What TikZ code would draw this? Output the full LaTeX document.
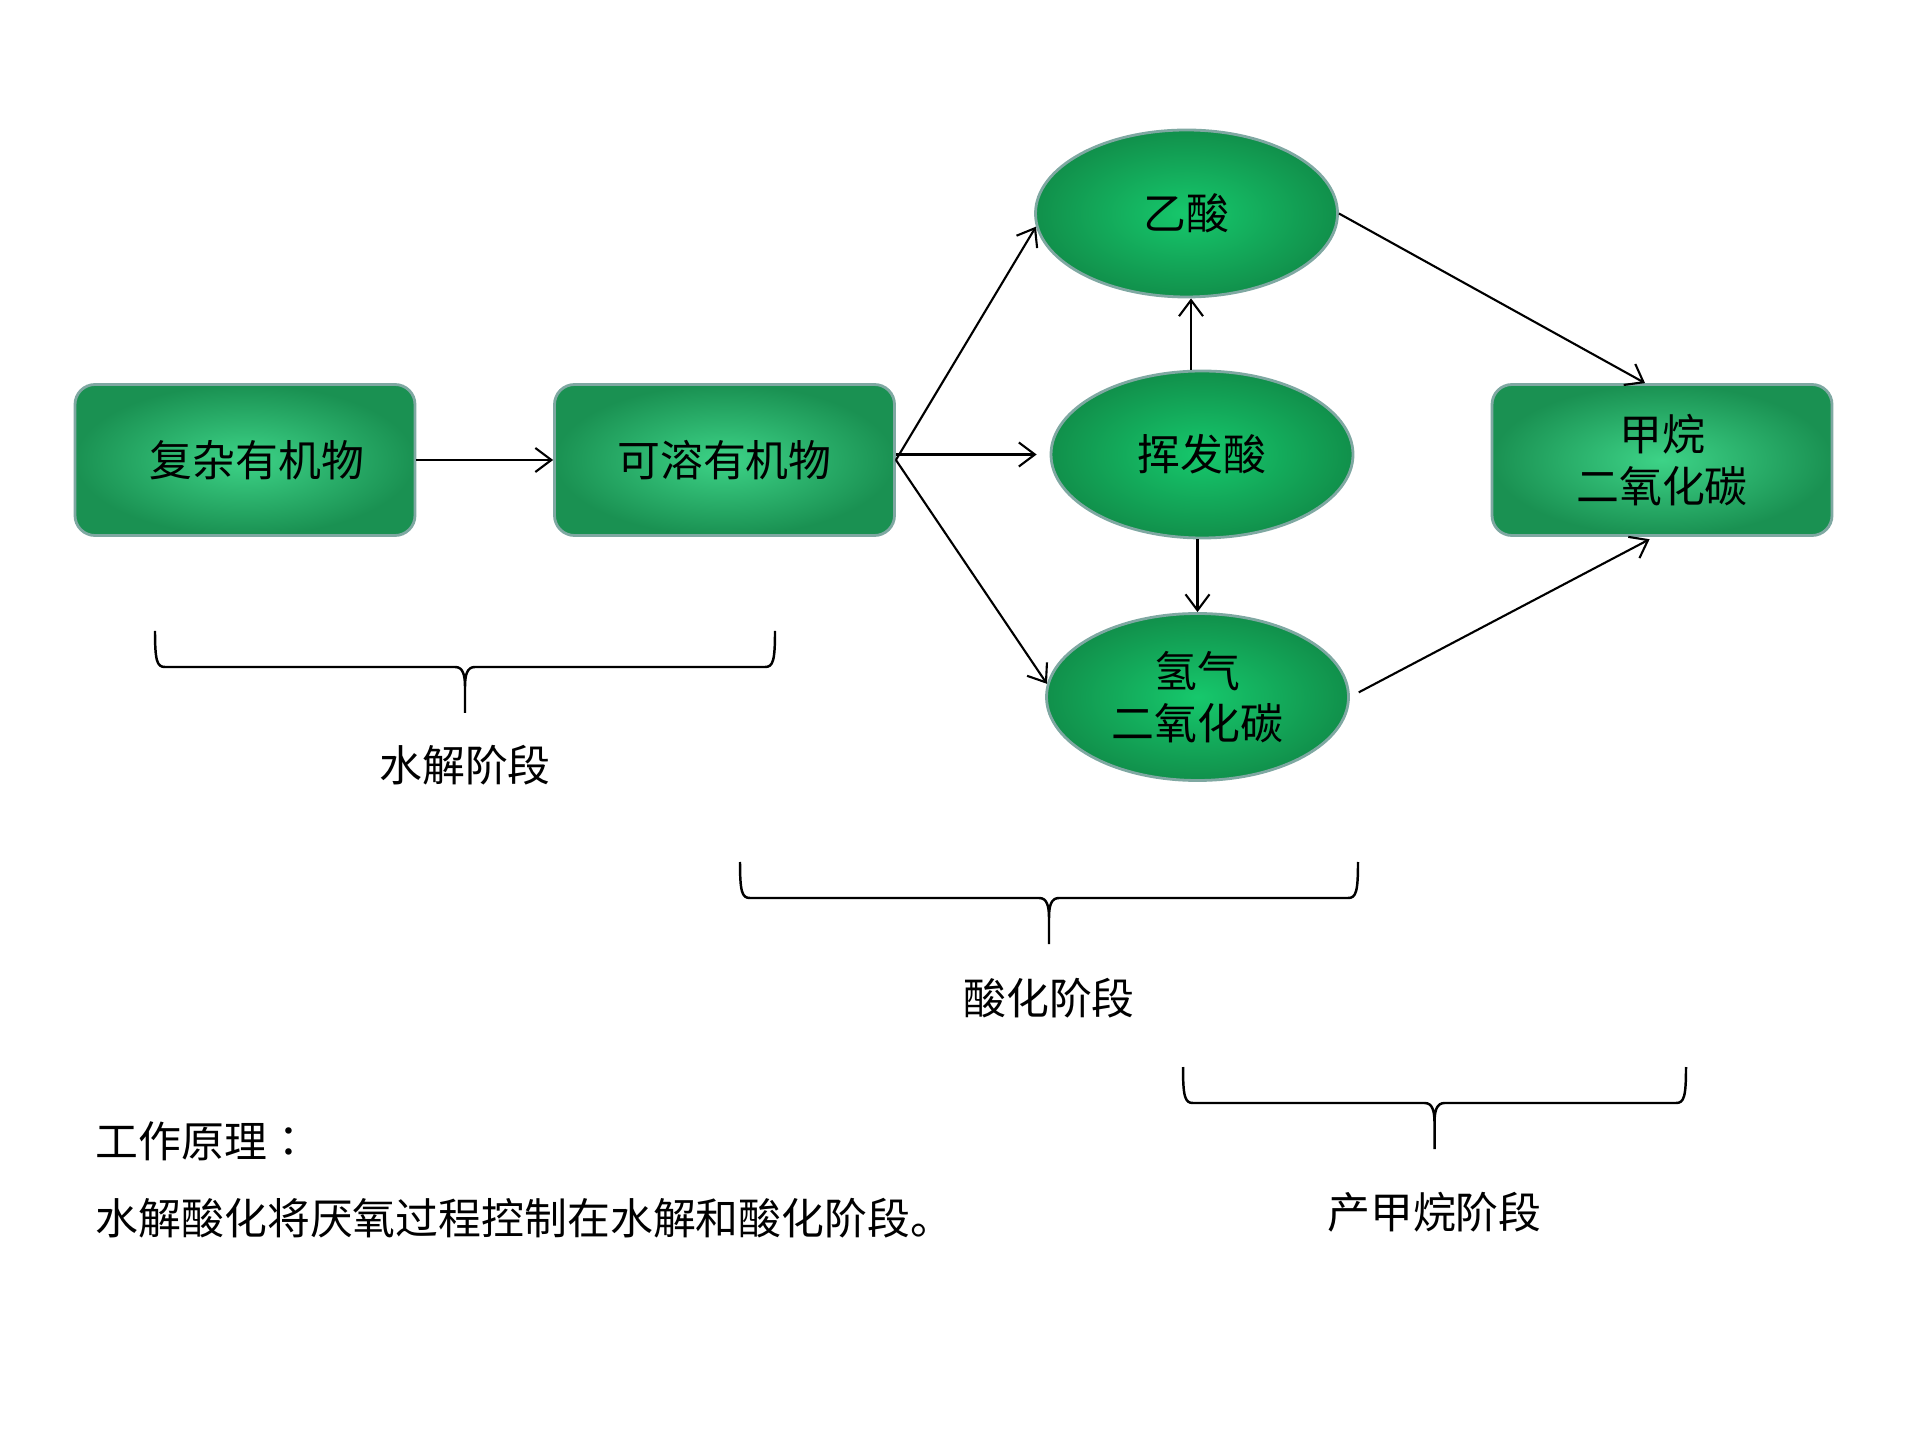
\documentclass[tikz,border=0pt]{standalone}
\usepackage{fontspec}
\setmainfont{Noto Sans CJK SC}
\newfontfamily\cjktc{Noto Sans CJK TC}
\usepackage{xcolor}
\usepackage{tikz}
\usetikzlibrary{arrows.meta, shapes.geometric, positioning, calc}

\definecolor{boxlight}{HTML}{3DD387}
\definecolor{boxdark}{HTML}{1A9152}
\definecolor{ovallight}{HTML}{16C86C}
\definecolor{ovaldark}{HTML}{11904B}
\definecolor{rimgray}{HTML}{7FA8A2}

\begin{document}
\begin{tikzpicture}[
    txt/.style={font=\fontsize{12.2}{14.8}\selectfont},
    box/.style={txt, draw=rimgray, line width=0.8pt, rounded corners=0.2cm, minimum width=3.4cm, minimum height=1.51cm, align=center, shading=radial, inner color=boxlight, outer color=boxdark},
    oval/.style={txt, ellipse, draw=rimgray, line width=0.8pt, minimum width=3.02cm, minimum height=1.67cm, inner sep=0pt, align=center, shading=radial, inner color=ovallight, outer color=ovaldark},
    arr/.style={-{Straight Barb[length=1.6mm, width=2.4mm]}, line width=0.6pt},
    brace/.style={line width=0.7pt}
  ]
  \useasboundingbox (0,0) rectangle (19.2,14.4);

  % Organic matter
  \node[box] (cmplx) at (2.45,9.80) {\hspace*{0.24cm}复杂有机物};
  \node[box] (solub) at (7.245,9.80) {可溶有机物};
  \node[box] (meth) at (16.62,9.80) {甲烷\\二氧化碳};

  % Acids and gases
  \node[oval] (acetic) at (11.865,12.265) {乙酸};
  \node[oval] (vfa) at (12.02,9.855) {挥发酸};
  \node[oval] (hyd) at (11.975,7.43) {氢气\\二氧化碳};

  % Connectors
  \draw[arr] (cmplx) -- (solub);
  \draw[arr] (solub.east) -- (acetic.185);
  \draw[arr, shorten >=1.3mm] (solub.east |- vfa.west) -- (vfa.west);
  \draw[arr] (solub.east) -- (hyd.175);
  \draw[arr] ([xshift=-1.1mm]vfa.north) -- ([xshift=-1.1mm]vfa.north |- acetic.south);
  \draw[arr] (vfa.south -| hyd.north) -- (hyd.north);
  \draw[arr] (acetic.east) -- ([xshift=-1.7mm]meth.north);
  \draw[arr, shorten <=1mm, shorten >=0.5mm] (hyd.east) -- ([xshift=-0.8mm]meth.south);

  % Stage braces
  \foreach \l/\r/\t/\y/\n/\s in {1.55/7.75/8.09/6.75/hydro/水解阶段, 7.40/13.58/5.78/4.42/acido/酸化阶段, 11.83/16.86/3.73/2.28/metha/产甲烷阶段} {
    \pgfmathsetmacro{\m}{(\l+\r)/2}
    \draw[brace] (\l,\t) .. controls +(0,-0.30) and +(-0.08,0) .. ({\l+0.10},{\t-0.36})
      -- ({\m-0.10},{\t-0.36}) .. controls +(0.08,0) and +(0,0.12) .. ({\m},{\t-0.56}) -- ({\m},{\t-0.82})
      ({\m},{\t-0.56}) .. controls +(0,0.12) and +(-0.08,0) .. ({\m+0.10},{\t-0.36})
      -- ({\r-0.10},{\t-0.36}) .. controls +(0.08,0) and +(0,-0.30) .. (\r,\t);
    \node[txt] (\n) at (\m,\y) {\s};
  }

  % Principle
  \node[txt, anchor=west, inner sep=0pt] (note1) at (0.95,2.99) {\cjktc 工作原理：};
  \node[txt, anchor=west, inner sep=0pt] (note2) at (0.95,2.22) {水解酸化将厌氧过程控制在水解和酸化阶段。};
\end{tikzpicture}
\end{document}
